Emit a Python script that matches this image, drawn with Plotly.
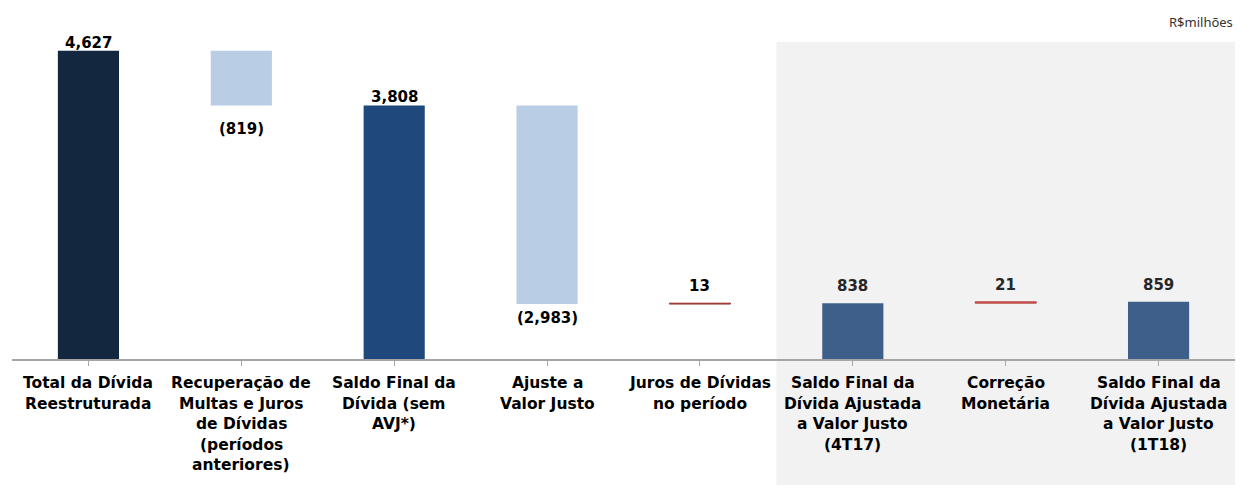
import plotly.graph_objects as go

categories = [
    "Total da Dívida<br>Reestruturada",
    "Recuperação de<br>Multas e Juros<br>de Dívidas<br>(períodos<br>anteriores)",
    "Saldo Final da<br>Dívida (sem<br>AVJ*)",
    "Ajuste a<br>Valor Justo",
    "Juros de Dívidas<br>no período",
    "Saldo Final da<br>Dívida Ajustada<br>a Valor Justo<br>(4T17)",
    "Correção<br>Monetária",
    "Saldo Final da<br>Dívida Ajustada<br>a Valor Justo<br>(1T18)",
]
values = [4627, -819, 3808, -2983, 13, 838, 21, 859]
measures = ["total", "relative", "total", "relative", "relative", "total", "relative", "total"]
unit_label = "R$milhões"

colors = ["#13273f", "#b9cde5", "#1f497d", "#b9cde5", "#9b3331", "#3e5f8a", "#c0504d", "#3e5f8a"]
label_shift = [-3, -13, -3, -3, 6, 6, 6, 6]
label_colors = ["#000000", "#000000", "#000000", "#000000", "#000000", "#262626", "#262626", "#262626"]

# compute bases
bases, heights = [], []
running = 0
for v, m in zip(values, measures):
    if m == "total":
        bases.append(0)
        heights.append(v)
        running = v
    else:
        lo = min(running, running + v)
        bases.append(lo)
        heights.append(abs(v))
        running = running + v

x = list(range(len(categories)))

fig = go.Figure()
fig.add_trace(go.Bar(
    x=x, y=heights, base=bases, width=0.4,
    marker=dict(color=colors,
                line=dict(color=[c if m == "relative" and abs(v) < 50 else "rgba(0,0,0,0)"
                                 for c, m, v in zip(colors, measures, values)], width=1)),
    hoverinfo="skip", showlegend=False,
))

annotations = []
for i, (v, m) in enumerate(zip(values, measures)):
    txt = f"({abs(v):,})" if v < 0 else f"{v:,}"
    if v < 0:
        y = bases[i]
        anchor = "top"
    else:
        y = bases[i] + heights[i]
        anchor = "bottom"
    annotations.append(dict(
        x=i, y=y, xref="x", yref="y", text=f"<b>{txt}</b>", showarrow=False,
        yanchor=anchor, yshift=label_shift[i],
        font=dict(family="DejaVu Sans", size=15, color=label_colors[i]),
    ))

for i, cat in enumerate(categories):
    for j, line in enumerate(cat.split("<br>")):
        annotations.append(dict(
            x=i, y=0, xref="x", yref="paper", text=f"<b>{line}</b>", showarrow=False,
            yanchor="middle", yshift=-(24 + 20.5 * j),
            font=dict(family="DejaVu Sans", size=15.5, color="#000000"),
        ))

annotations.append(dict(
    x=1, y=1, xref="paper", yref="paper", text=unit_label, showarrow=False,
    xanchor="right", yanchor="middle", yshift=20,
    font=dict(family="Noto Sans", size=13, color="#333333"),
))

fig.update_layout(
    width=1227, height=477,
    margin=dict(l=4, r=0, t=34, b=126),
    paper_bgcolor="white", plot_bgcolor="rgba(0,0,0,0)",
    annotations=annotations,
    shapes=[dict(type="rect", xref="x", yref="paper", x0=4.5, x1=7.5,
                 y0=-126 / 317, y1=1, fillcolor="#f2f2f2", line=dict(width=0), layer="below")],
    xaxis=dict(range=[-0.5, 7.5], showticklabels=False, tickmode="array", tickvals=x,
               ticks="outside", tickson="boundaries", ticklen=5, tickcolor="#a6a6a6",
               showline=True, linecolor="#a6a6a6", linewidth=2, showgrid=False, zeroline=False),
    yaxis=dict(range=[0, 4760], visible=False, showgrid=False, zeroline=False),
    bargap=0.6,
)

fig.write_html("out.html")
